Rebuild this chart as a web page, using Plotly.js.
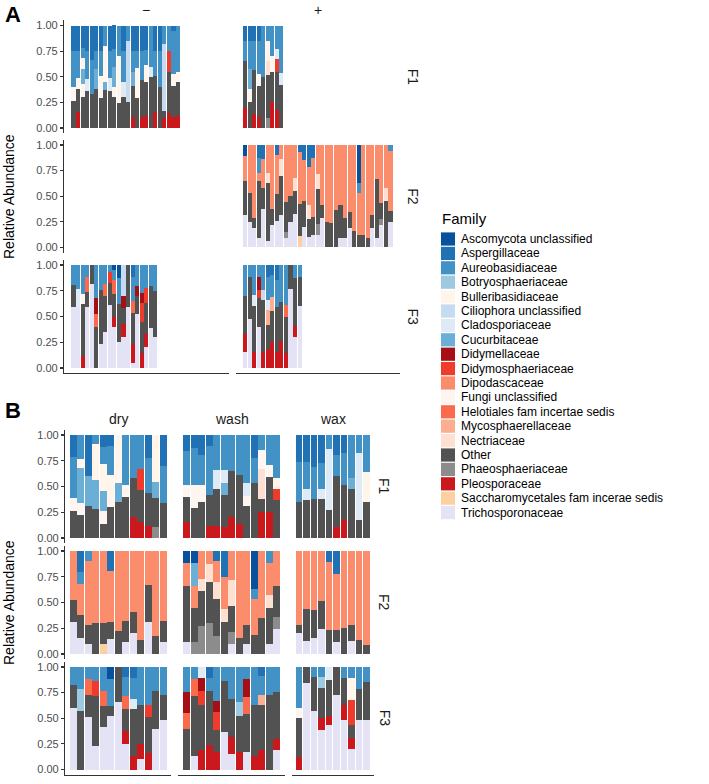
<!DOCTYPE html>
<html><head><meta charset="utf-8">
<script src="https://cdn.plot.ly/plotly-3.0.1.min.js"></script>
<style>html,body{margin:0;padding:0;background:#fff}#chart{width:709px;height:784px}</style>
</head><body><div id="chart"></div>
<script>
// ---------- families & colours ----------
const families = ['Ascomycota unclassified','Aspergillaceae','Aureobasidiaceae','Botryosphaeriaceae','Bulleribasidiaceae','Ciliophora unclassified','Cladosporiaceae','Cucurbitaceae','Didymellaceae','Didymosphaeriaceae','Dipodascaceae','Fungi unclassified','Helotiales fam incertae sedis','Mycosphaerellaceae','Nectriaceae','Other','Phaeosphaeriaceae','Pleosporaceae','Saccharomycetales fam incerae sedis','Trichosporonaceae'];
const familyColors = ['#08519c','#2171b5','#4292c6','#9ecae1','#fff5eb','#c6dbef','#deebf7','#6baed6','#a50f15','#ef3b2c','#fb8c6c','#fff5f0','#fb6a4a','#fcae91','#fee0d2','#525252','#8c8c8c','#cb181d','#fdd0a2','#e3e3f5'];
const panelAColumns = ['−','+'];
const panelBColumns = ['dry','wash','wax'];
const rowLabels = ['F1','F2','F3'];
const yTickVals = [0,0.25,0.5,0.75,1];
const yTickText = ['0.00','0.25','0.50','0.75','1.00'];

// ---------- Panel A, F1, − ----------
const aF1neg_fam = ['Pleosporaceae','Other','Fungi unclassified','Didymosphaeriaceae','Cucurbitaceae','Cladosporiaceae','Ciliophora unclassified','Bulleribasidiaceae','Aureobasidiaceae','Aspergillaceae'];
const aF1neg_val = [
 [0,.16,0,0,0,0,0,0,0,0,0,0,0,.11,0,.11,.12,0,.16,0,.10,.15,.11,.12],
 [.26,.22,.30,.36,.33,.38,.29,.37,.36,.30,.24,.30,.25,.30,.29,.36,.33,.50,.35,.40,.07,.40,.30,.33],
 [.14,.11,.13,0,0,0,.22,0,0,.10,0,0,0,0,0,0,0,0,0,0,0,0,.12,0],
 [0,0,0,0,0,0,0,0,0,0,0,0,0,0,0,0,0,0,0,0,0,.20,0,0],
 [0,0,.15,0,0,.20,0,.08,0,.20,0,0,0,.14,0,0,0,0,0,0,0,0,0,0],
 [0,0,0,.12,0,0,0,0,.13,0,0,.15,0,0,0,0,0,.10,0,0,0,0,0,0],
 [0,0,0,0,0,0,0,0,0,0,0,0,.60,0,0,0,0,0,0,0,.65,0,0,0],
 [0,0,.10,0,0,0,0,.35,0,0,.46,0,0,0,.30,0,.16,0,0,0,0,0,0,.10],
 [.35,.26,.10,.27,.33,.17,.24,.20,.26,.17,.30,.30,.15,.20,.16,.28,.15,.40,.24,.35,.18,.25,.42,.45],
 [.25,.25,.22,.25,.34,.25,.25,0,.25,.23,0,.25,0,.25,.25,.25,.24,0,.25,.25,0,0,.05,0]
];
// ---------- Panel A, F1, + ----------
const aF1pos_fam = ['Pleosporaceae','Phaeosphaeriaceae','Other','Nectriaceae','Fungi unclassified','Didymosphaeriaceae','Cucurbitaceae','Cladosporiaceae','Bulleribasidiaceae','Aureobasidiaceae','Aspergillaceae'];
const aF1pos_val = [
 [.20,0,.14,.11,0,0,.25,.18,0],
 [0,0,0,0,0,.10,0,0,0],
 [.45,.25,.43,.30,.50,.42,.30,.37,.42],
 [0,0,0,0,0,.13,0,0,0],
 [0,.13,0,.12,0,0,.15,0,0],
 [0,0,0,0,0,0,0,.12,0],
 [0,.20,0,0,0,0,0,0,0],
 [0,0,0,0,0,0,0,.10,.12],
 [0,0,0,0,0,.20,0,0,0],
 [.20,.27,.28,.32,.50,.15,.30,.23,.46],
 [.15,.15,.15,.15,0,0,0,0,0]
];
// ---------- Panel A, F2, + ----------
const aF2pos_fam = ['Trichosporonaceae','Saccharomycetales fam incerae sedis','Phaeosphaeriaceae','Other','Nectriaceae','Dipodascaceae','Aureobasidiaceae','Aspergillaceae','Ascomycota unclassified'];
const aF2pos_val = [
 [.32,.25,.19,.09,.38,.06,.22,.26,.32,.09,.25,.33,0,.20,.10,.12,.12,.29,0,0,0,.09,.09,.19,0,0,0,0,.19,.09,.22,0,.25],
 [0,0,0,0,0,0,0,0,0,0,0,0,.11,0,0,0,0,0,0,0,0,0,0,0,0,0,0,0,0,0,0,0,0],
 [0,0,0,0,0,0,0,0,0,.06,0,0,0,0,0,0,.11,0,0,0,0,0,0,0,0,0,0,0,0,0,.06,0,0],
 [.33,.28,.10,.56,.20,.57,.16,.26,.38,.29,.25,.22,.31,.25,.18,.18,.34,.12,.25,.24,.37,.32,.20,.16,.16,.12,.12,.09,.13,.58,.15,.45,.11],
 [0,0,0,0,0,.10,0,0,.16,0,0,.13,0,0,.13,0,.15,0,0,0,0,0,0,0,0,0,0,0,0,0,0,.13,0],
 [.24,.47,.71,.08,.28,.27,.62,.38,.14,.56,.50,.32,.51,.40,.38,.57,.28,.59,.75,.76,.63,.59,.71,.65,.84,.41,.88,.91,.68,.33,.57,.42,.58],
 [0,0,0,.14,0,0,0,0,0,0,0,0,0,0,0,0,0,0,0,0,0,0,0,0,0,.10,0,0,0,0,0,0,.06],
 [0,0,0,.13,.14,0,0,.10,0,0,0,0,.07,.15,.21,.13,0,0,0,0,0,0,0,0,0,0,0,0,0,0,0,0,0],
 [.11,0,0,0,0,0,0,0,0,0,0,0,0,0,0,0,0,0,0,0,0,0,0,0,0,.37,0,0,0,0,0,0,0]
];
// ---------- Panel A, F3, − ----------
const aF3neg_fam = ['Trichosporonaceae','Pleosporaceae','Other','Helotiales fam incertae sedis','Fungi unclassified','Didymosphaeriaceae','Didymellaceae','Cladosporiaceae','Ciliophora unclassified','Aureobasidiaceae','Aspergillaceae','Ascomycota unclassified'];
const aF3neg_val = [
 [.59,.59,0,.59,.82,0,.23,.35,.61,.40,.25,.30,.59,.05,.52,0,.20,.39,.30],
 [0,0,.12,0,0,0,0,0,0,.10,0,.13,0,.18,0,.15,.13,0,0],
 [.22,0,.50,.15,.18,.40,.53,.35,.22,.22,.37,.15,.41,.30,.18,.30,.30,.41,.45],
 [0,0,0,.14,0,.12,0,.12,0,.13,0,0,0,.12,0,0,0,0,0],
 [0,0,.10,0,0,0,0,0,0,0,0,0,0,0,0,0,0,0,0],
 [0,0,0,0,0,0,0,0,.10,0,0,0,0,0,0,.18,.15,0,0],
 [0,0,0,0,0,.16,0,0,0,0,0,.12,0,0,.10,.10,0,0,0],
 [0,.18,0,0,0,0,0,0,0,0,0,0,0,0,0,0,0,0,0],
 [0,0,0,0,0,0,0,0,0,0,0,.30,0,0,0,0,0,0,0],
 [.19,.23,.28,.12,0,.32,.24,.18,.07,.10,.25,0,0,.23,.20,.27,.22,.20,.25],
 [0,0,0,0,0,0,0,0,0,0,0,0,0,.12,0,0,0,0,0],
 [0,0,0,0,0,0,0,0,0,.05,.13,0,0,0,0,0,0,0,0]
];
// ---------- Panel A, F3, + ----------
const aF3pos_fam = ['Trichosporonaceae','Pleosporaceae','Other','Mycosphaerellaceae','Helotiales fam incertae sedis','Didymosphaeriaceae','Didymellaceae','Cladosporiaceae','Ciliophora unclassified','Aureobasidiaceae','Aspergillaceae'];
const aF3pos_val = [
 [.16,.48,0,.40,0,0,0,0,0,0,.77,.30,.60],
 [.17,0,.16,0,.16,.18,.25,.16,.26,.15,0,.11,0],
 [.37,.40,.44,.28,.50,.24,.30,.43,.38,.35,.23,.46,.28],
 [0,0,0,0,0,.14,.14,0,0,0,0,0,0],
 [0,0,0,0,0,0,0,0,0,.11,0,0,0],
 [0,0,0,.08,0,0,0,0,0,0,0,0,0],
 [0,0,0,.12,0,0,0,0,0,0,0,0,0],
 [0,0,.11,0,0,.10,0,0,0,0,0,0,0],
 [0,0,0,0,.10,0,0,0,0,0,0,0,0],
 [.30,.12,.29,.12,.24,.22,.21,.26,.36,.39,0,.13,.12],
 [0,0,0,0,0,.12,.10,.15,0,0,0,0,0]
];

// ---------- Panel B, F1 ----------
const bF1dry_fam = ['Pleosporaceae','Phaeosphaeriaceae','Other','Fungi unclassified','Didymosphaeriaceae','Cucurbitaceae','Bulleribasidiaceae','Aureobasidiaceae','Aspergillaceae'];
const bF1dry_val = [
 [0,0,0,0,0,0,0,0,.20,.16,.12,0,0],
 [0,0,0,0,0,0,0,0,0,0,0,.11,0],
 [.26,.22,.31,.28,.14,.30,.35,.40,.38,.31,.32,.28,.34],
 [.13,.12,0,0,.12,0,0,.11,0,0,0,0,0],
 [0,0,0,0,0,0,0,0,0,.20,0,0,0],
 [0,.34,.29,.28,.20,0,.18,0,0,0,0,.15,0],
 [0,.09,0,.35,.26,.31,.47,0,0,0,0,.46,0],
 [.40,.23,0,.09,.16,.28,0,.49,.42,.33,.34,0,.36],
 [.21,0,.40,0,.12,.11,0,0,0,0,.22,0,.30]
];
const bF1wash_fam = ['Pleosporaceae','Other','Nectriaceae','Fungi unclassified','Didymosphaeriaceae','Cucurbitaceae','Cladosporiaceae','Bulleribasidiaceae','Aureobasidiaceae','Aspergillaceae'];
const bF1wash_val = [
 [.16,0,0,.12,.12,.11,.20,.14,0,0,.25,.25,0],
 [.24,.29,.35,.30,.36,.31,.45,.47,.31,.53,.13,.34,.37],
 [0,0,0,0,0,0,0,0,0,0,.29,0,0],
 [.11,.22,.16,0,0,0,0,0,.10,0,.18,.12,0],
 [0,0,0,0,0,0,0,0,0,0,0,0,.11],
 [0,0,0,0,0,.11,0,0,0,0,0,0,0],
 [0,0,0,0,.18,.13,0,0,.12,0,0,0,0],
 [0,0,0,0,0,0,0,0,0,0,0,0,.10],
 [.33,.36,.30,.47,.34,.34,.35,.39,.47,.25,.15,.29,.42],
 [.16,.13,.19,.11,0,0,0,0,0,.22,0,0,0]
];
const bF1wax_fam = ['Pleosporaceae','Other','Cucurbitaceae','Cladosporiaceae','Bulleribasidiaceae','Aureobasidiaceae','Aspergillaceae'];
const bF1wax_val = [
 [0,0,0,0,0,.11,.17,0,0,0],
 [.35,.37,.38,.38,.27,.49,.34,.48,.17,.35],
 [0,0,0,0,0,0,0,.10,0,0],
 [0,.11,0,.10,.59,0,0,0,.66,0],
 [0,0,0,0,0,0,0,0,0,.29],
 [.39,.26,.31,.25,.14,.21,.32,.42,.17,.36],
 [.26,.26,.31,.27,0,.19,.17,0,0,0]
];
// ---------- Panel B, F2 ----------
const bF2dry_fam = ['Trichosporonaceae','Saccharomycetales fam incerae sedis','Other','Dipodascaceae','Aureobasidiaceae','Aspergillaceae'];
const bF2dry_val = [
 [.31,.16,.10,0,0,.15,0,.12,.20,0,.31,0,.12],
 [0,0,0,0,.10,0,0,0,0,0,0,0,0],
 [.21,.22,.18,.30,.20,.16,.22,.20,.21,.14,.36,.17,.20],
 [.48,.30,.62,.70,.70,.50,.78,.68,.59,.86,.33,.83,.68],
 [0,.12,.10,0,0,0,0,0,0,0,0,0,0],
 [0,.20,0,0,0,.19,0,0,0,0,0,0,0]
];
const bF2wash_fam = ['Trichosporonaceae','Phaeosphaeriaceae','Other','Nectriaceae','Dipodascaceae','Cucurbitaceae','Aureobasidiaceae','Aspergillaceae','Ascomycota unclassified'];
const bF2wash_val = [
 [.12,0,0,0,0,0,.10,0,.10,0,0,.10,.24],
 [0,.12,.27,.30,.17,0,.11,0,0,0,0,0,.12],
 [.54,.33,.34,.40,.36,.31,.26,.16,.18,.18,.35,.35,.30],
 [0,0,.12,.17,.17,.13,.25,0,0,0,0,.12,0],
 [.22,.21,.27,.13,.20,.31,.28,.84,.72,.35,.65,.31,.34],
 [0,.22,0,0,0,0,0,0,0,0,0,0,0],
 [0,0,0,0,0,0,0,0,0,.10,0,.12,0],
 [0,0,0,0,.10,.25,0,0,0,0,0,0,0],
 [.12,.12,0,0,0,0,0,0,0,.37,0,0,0]
];
const bF2wax_fam = ['Trichosporonaceae','Other','Dipodascaceae','Aspergillaceae'];
const bF2wax_val = [
 [.20,.13,.16,.24,0,.12,0,.13,0,0],
 [.08,.31,.27,.27,.23,.11,.25,.15,.14,.09],
 [.72,.56,.57,.49,.66,.55,.75,.72,.86,.91],
 [0,0,0,0,.11,.22,0,0,0,0]
];
// ---------- Panel B, F3 ----------
const bF3dry_fam = ['Trichosporonaceae','Pleosporaceae','Other','Helotiales fam incertae sedis','Didymosphaeriaceae','Cladosporiaceae','Botryosphaeriaceae','Aureobasidiaceae','Aspergillaceae','Ascomycota unclassified'];
const bF3dry_val = [
 [.60,0,.51,.23,.41,.52,.66,.25,0,.10,0,.40,.48],
 [0,0,0,0,0,0,0,.13,.13,.15,.16,0,0],
 [.22,.57,.22,.49,.21,.10,.34,.21,.46,.38,.35,.37,.25],
 [0,0,.15,0,.15,0,0,.13,0,0,0,0,0],
 [0,0,0,.14,0,0,0,0,0,0,.12,0,0],
 [0,0,0,0,0,0,0,0,.10,0,0,0,0],
 [0,.22,0,0,0,0,0,0,0,0,0,0,0],
 [.18,.21,.12,.14,.23,.26,0,.18,.20,.37,.37,.23,.27],
 [0,0,0,0,0,0,0,.10,.11,0,0,0,0],
 [0,0,0,0,0,.12,0,0,0,0,0,0,0]
];
const bF3wash_fam = ['Trichosporonaceae','Pleosporaceae','Other','Mycosphaerellaceae','Helotiales fam incertae sedis','Didymosphaeriaceae','Didymellaceae','Cladosporiaceae','Botryosphaeriaceae','Aureobasidiaceae','Aspergillaceae'];
const bF3wash_val = [
 [0,.13,0,0,0,.37,.15,0,.17,0,0,0,.19],
 [0,0,.19,.24,.17,0,.17,.17,0,.13,.19,0,.11],
 [.40,.59,.44,.53,.22,.49,.37,.35,.37,.50,.44,.73,.46],
 [0,0,0,0,0,0,0,0,0,0,.10,0,0],
 [.15,.16,0,0,0,0,0,0,.17,0,0,0,0],
 [0,0,.14,0,.17,0,0,0,0,0,0,0,0],
 [.21,0,.12,0,.11,0,0,0,.17,0,0,0,0],
 [0,0,.11,0,0,0,0,0,0,0,0,0,0],
 [0,0,0,0,0,0,0,.14,0,0,0,0,0],
 [.24,.12,0,.12,.33,.14,.31,.34,.12,.37,.18,.27,.24],
 [0,0,0,.11,0,0,0,0,0,0,.09,0,0]
];
const bF3wax_fam = ['Trichosporonaceae','Pleosporaceae','Other','Fungi unclassified','Didymosphaeriaceae','Cladosporiaceae','Bulleribasidiaceae','Botryosphaeriaceae','Aureobasidiaceae'];
const bF3wax_val = [
 [0,.84,.57,.39,.43,.73,.48,.20,.48,.48],
 [.12,0,0,.11,.09,0,.15,.11,0,0],
 [.38,.16,.33,.30,.35,.27,.26,.12,.31,.37],
 [.10,0,0,0,0,0,0,0,0,0],
 [0,0,0,0,0,0,0,.25,0,0],
 [0,0,0,0,.13,0,0,0,0,0],
 [0,0,0,0,0,0,0,.21,0,0],
 [0,0,0,.10,0,0,0,0,0,0],
 [.40,0,.10,.10,0,0,.11,.11,.21,.15]
];

// ---------- layout geometry (pixels) ----------
const W = 709, H = 784;
const fx = p => p / W;
const fy = p => 1 - p / H;
const FONT = 'Liberation Sans, Arial, sans-serif';

const aRows = [[25.5,128],[145,247.5],[265,368]];
const bRows = [[435,538],[551,654],[667,769.5]];
function rowDomain(r){ const u = r[1]-r[0]; return [r[0]-0.05*u, r[1]+0.05*u]; }

const aMaxN = 33;
const aCols = [[64,228.5],[235.5,400]];
const aXRange = [0.55 - 0.05*(aMaxN-0.1), aMaxN+0.45 + 0.05*(aMaxN-0.1)];

const bN = [13,13,10];
const bUnit = 7.5, bLeft = 65, bGap = 7;
const bCols = []; let cx = bLeft;
bN.forEach(n => { const w = (n-0.1)*1.1*bUnit; bCols.push([cx, cx+w]); cx += w + bGap; });

const panels = [
 {id:1, fam:aF1neg_fam, val:aF1neg_val, col:aCols[0], row:aRows[0], xr:aXRange, left:true, bottom:false},
 {id:2, fam:aF1pos_fam, val:aF1pos_val, col:aCols[1], row:aRows[0], xr:aXRange, left:false, bottom:false},
 {id:3, fam:[], val:[], col:aCols[0], row:aRows[1], xr:aXRange, left:true, bottom:false},
 {id:4, fam:aF2pos_fam, val:aF2pos_val, col:aCols[1], row:aRows[1], xr:aXRange, left:false, bottom:false},
 {id:5, fam:aF3neg_fam, val:aF3neg_val, col:aCols[0], row:aRows[2], xr:aXRange, left:true, bottom:true},
 {id:6, fam:aF3pos_fam, val:aF3pos_val, col:aCols[1], row:aRows[2], xr:aXRange, left:false, bottom:true}
];
const bData = [[[bF1dry_fam,bF1dry_val],[bF1wash_fam,bF1wash_val],[bF1wax_fam,bF1wax_val]],
               [[bF2dry_fam,bF2dry_val],[bF2wash_fam,bF2wash_val],[bF2wax_fam,bF2wax_val]],
               [[bF3dry_fam,bF3dry_val],[bF3wash_fam,bF3wash_val],[bF3wax_fam,bF3wax_val]]];
for (let r=0;r<3;r++) for (let c=0;c<3;c++){
  const n = bN[c];
  panels.push({id:7+r*3+c, fam:bData[r][c][0], val:bData[r][c][1], col:bCols[c], row:bRows[r],
    xr:[0.55-0.05*(n-0.1), n+0.45+0.05*(n-0.1)], left:c===0, bottom:r===2});
}

const layout = {
  width:W, height:H, margin:{l:0,r:0,t:0,b:0}, paper_bgcolor:'#fff', plot_bgcolor:'rgba(0,0,0,0)',
  barmode:'stack', bargap:0.1, showlegend:false, font:{family:FONT, color:'#000'},
  annotations:[], shapes:[]
};
const traces = [];
const AXC = '#333333';
panels.forEach(p => {
  const s = p.id===1 ? '' : String(p.id);
  const yd = rowDomain(p.row);
  layout['xaxis'+s] = {domain:[fx(p.col[0]), fx(p.col[1])], range:p.xr, anchor:'y'+s, showgrid:false, zeroline:false,
    showticklabels:false, ticks:'', showline:p.bottom, linecolor:AXC, linewidth:1.1, fixedrange:true};
  layout['yaxis'+s] = {domain:[fy(yd[1]), fy(yd[0])], range:[-0.05,1.05], anchor:'x'+s, showgrid:false, zeroline:false,
    showline:p.left, linecolor:AXC, linewidth:1.1, ticks:p.left?'outside':'', ticklen:3, tickcolor:AXC, tickwidth:1.1,
    tickvals:yTickVals, ticktext:yTickText, showticklabels:p.left, tickfont:{size:11, color:'#4d4d4d', family:FONT}, fixedrange:true};
  let drew = false;
  for (let f = families.length-1; f >= 0; f--) {
    const k = p.fam.indexOf(families[f]);
    if (k < 0) continue;
    const vals = p.val[k];
    traces.push({type:'bar', x:vals.map((v,i)=>i+1), y:vals, xaxis:'x'+s, yaxis:'y'+s, name:families[f],
      marker:{color:familyColors[f], line:{width:0}}, hoverinfo:'skip', showlegend:false});
    drew = true;
  }
  if (!drew) traces.push({type:'bar', x:[1], y:[0], xaxis:'x'+s, yaxis:'y'+s, marker:{color:'rgba(0,0,0,0)'}, hoverinfo:'skip', showlegend:false});
});

const ann = layout.annotations;
const aLabelX = aCols[1][1] + 13;
const bLabelX = bCols[2][1] + 11;
aCols.forEach((c,i)=> ann.push({xref:'paper',yref:'paper', x:fx((c[0]+c[1])/2), y:fy(10), text:panelAColumns[i], showarrow:false, font:{size:14, color:'#1a1a1a'}, xanchor:'center', yanchor:'middle'}));
bCols.forEach((c,i)=> ann.push({xref:'paper',yref:'paper', x:fx((c[0]+c[1])/2), y:fy(419), text:panelBColumns[i], showarrow:false, font:{size:14, color:'#1a1a1a'}, xanchor:'center', yanchor:'middle'}));
aRows.forEach((r,i)=> ann.push({xref:'paper',yref:'paper', x:fx(aLabelX), y:fy((r[0]+r[1])/2), text:rowLabels[i], textangle:90, showarrow:false, font:{size:14, color:'#1a1a1a'}, xanchor:'center', yanchor:'middle'}));
bRows.forEach((r,i)=> ann.push({xref:'paper',yref:'paper', x:fx(bLabelX), y:fy((r[0]+r[1])/2), text:rowLabels[i], textangle:90, showarrow:false, font:{size:14, color:'#1a1a1a'}, xanchor:'center', yanchor:'middle'}));
ann.push({xref:'paper',yref:'paper', x:fx(3), y:fy(14), text:'<b>A</b>', showarrow:false, xanchor:'left', yanchor:'middle', font:{size:22}});
ann.push({xref:'paper',yref:'paper', x:fx(3), y:fy(410), text:'<b>B</b>', showarrow:false, xanchor:'left', yanchor:'middle', font:{size:22}});
ann.push({xref:'paper',yref:'paper', x:fx(9), y:fy(197), text:'Relative Abundance', textangle:-90, showarrow:false, xanchor:'center', yanchor:'middle', font:{size:14}});
ann.push({xref:'paper',yref:'paper', x:fx(9), y:fy(603), text:'Relative Abundance', textangle:-90, showarrow:false, xanchor:'center', yanchor:'middle', font:{size:14}});

ann.push({xref:'paper',yref:'paper', x:fx(440), y:fy(218), text:'Family', showarrow:false, xanchor:'left', yanchor:'middle', font:{size:15}});
families.forEach((f,i)=>{
  const yc = 239 + i*14.4;
  layout.shapes.push({type:'rect', xref:'paper', yref:'paper', x0:fx(441), x1:fx(455), y0:fy(yc+6.6), y1:fy(yc-6.6), fillcolor:familyColors[i], line:{width:0}});
  ann.push({xref:'paper',yref:'paper', x:fx(459), y:fy(yc), text:f, showarrow:false, xanchor:'left', yanchor:'middle', font:{size:12}});
});

Plotly.newPlot('chart', traces, layout, {staticPlot:true, displayModeBar:false});
</script>
</body></html>
